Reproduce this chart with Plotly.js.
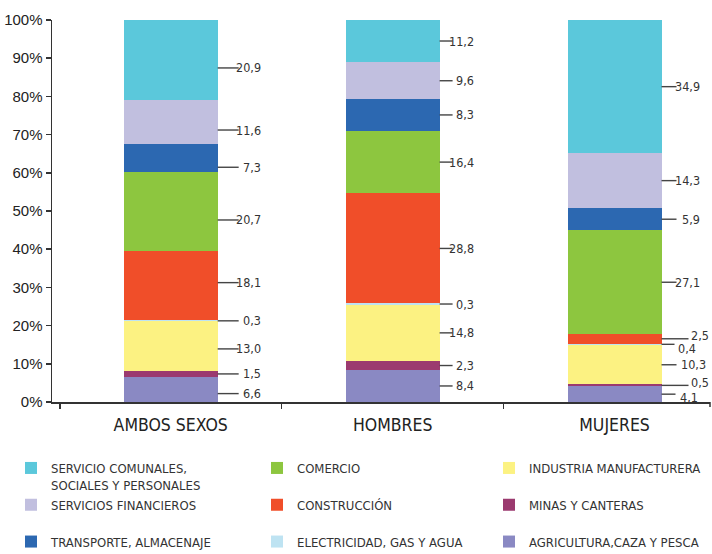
<!DOCTYPE html>
<html>
<head>
<meta charset="utf-8">
<script src="https://cdn.plot.ly/plotly-3.0.1.min.js"></script>
<style>html,body{margin:0;padding:0;background:#fff;}#chart{width:712px;height:554px;}</style>
</head>
<body>
<div id="chart"></div>
<script>
// ---- DATA ----
const categories = ['AMBOS SEXOS', 'HOMBRES', 'MUJERES'];
const yTickValues = [0, 10, 20, 30, 40, 50, 60, 70, 80, 90, 100];
const yTickLabels = ['0%', '10%', '20%', '30%', '40%', '50%', '60%', '70%', '80%', '90%', '100%'];

const agricultura  = [6.6, 8.4, 4.1];
const minas        = [1.5, 2.3, 0.5];
const industria    = [13.0, 14.8, 10.3];
const electricidad = [0.3, 0.3, 0.4];
const construccion = [18.1, 28.8, 2.5];
const comercio     = [20.7, 16.4, 27.1];
const transporte   = [7.3, 8.3, 5.9];
const financieros  = [11.6, 9.6, 14.3];
const comunales    = [20.9, 11.2, 34.9];

const sectorNames = [
  'AGRICULTURA,CAZA Y PESCA',
  'MINAS Y CANTERAS',
  'INDUSTRIA MANUFACTURERA',
  'ELECTRICIDAD, GAS Y AGUA',
  'CONSTRUCCIÓN',
  'COMERCIO',
  'TRANSPORTE, ALMACENAJE<br>Y COMUNICACIONES',
  'SERVICIOS FINANCIEROS',
  'SERVICIO COMUNALES,<br>SOCIALES Y PERSONALES'
];

// ---- STYLE ----
const seriesValues = [agricultura, minas, industria, electricidad, construccion, comercio, transporte, financieros, comunales];
const colors = ['#8A89C3', '#9B3A6F', '#FCF282', '#BEE3F2', '#F04E29', '#8DC63F', '#2C68B1', '#C1BFDF', '#5BC8DB'];
const legendCol  = ['legend3', 'legend3', 'legend3', 'legend2', 'legend2', 'legend2', 'legend', 'legend', 'legend'];
const legendRank = [3, 2, 1, 3, 2, 1, 3, 2, 1];

const narrow = '"Liberation Sans Narrow", "Arial Narrow", "DejaVu Sans Condensed", sans-serif';
const regular = '"Liberation Sans", Arial, sans-serif';
const barWidth = 0.423;

const traces = seriesValues.map((vals, k) => {
  let nm = sectorNames[k];
  if (nm.indexOf('<br>') < 0) nm = nm + '<br> ';
  return {
    type: 'bar',
    x: categories,
    y: vals,
    name: nm,
    width: barWidth,
    marker: {color: colors[k], line: {width: 0}},
    legend: legendCol[k],
    legendrank: legendRank[k],
    legendgroup: 'g' + k,
    hoverinfo: 'skip'
  };
});

// ---- LABELS with leader lines ----
const barLabelGeom = [{L: 21, R: 44}, {L: 13, R: 35}, {L: 15, R: 39}];
const tweaks = {
  0: {8: {dy: -2.1}, 7: {dy: -2.1}, 6: {dy: -2.4}, 5: {dy: -2.2}, 4: {dy: 0.8}, 2: {dy: -0.7}, 0: {dy: -1.1}},
  2: {4: {L: 27, left: 28, ys: 3}, 3: {L: 13, left: 15, ys: -4}, 2: {R: 45}, 1: {L: 27, left: 28, ys: 3}, 0: {L: 14, left: 17, ys: -3}}
};

const shapes = [];
const annotations = [];
categories.forEach((cat, i) => {
  let base = 0;
  seriesValues.forEach((vals, k) => {
    const v = vals[i];
    const tw = (tweaks[i] && tweaks[i][k]) || {};
    const y = base + v / 2 + (tw.dy || 0);
    base += v;
    const L = tw.L !== undefined ? tw.L : barLabelGeom[i].L;
    const edge = i + barWidth / 2;
    shapes.push({
      type: 'line', xref: 'x', yref: 'y', xsizemode: 'pixel', xanchor: edge,
      x0: 0, x1: L, y0: y, y1: y,
      line: {color: '#444', width: 1.4}
    });
    const txt = v.toFixed(1).replace('.', ',');
    const ann = {
      x: edge, y: y, xref: 'x', yref: 'y', text: txt, showarrow: false,
      yanchor: 'middle', yshift: tw.ys || 0, borderpad: 0,
      font: {family: narrow, size: 12.5, color: '#333'}
    };
    if (tw.left !== undefined) {
      ann.xanchor = 'left';
      ann.xshift = tw.left;
    } else {
      ann.xanchor = 'right';
      ann.xshift = tw.R !== undefined ? tw.R : barLabelGeom[i].R;
    }
    annotations.push(ann);
  });
});
shapes.push({type: 'line', xref: 'paper', yref: 'paper', ysizemode: 'pixel', yanchor: 0,
  x0: 1, x1: 1, y0: 0, y1: -5, line: {color: '#333', width: 1.5}});

const legendBase = {
  orientation: 'v', xref: 'container', yref: 'container',
  xanchor: 'left', yanchor: 'top', y: 1 - 453 / 554,
  traceorder: 'grouped', tracegroupgap: 0, valign: 'top',
  font: {family: narrow, size: 13, color: '#333'},
  bgcolor: 'rgba(0,0,0,0)', itemclick: false, itemdoubleclick: false
};

const layout = {
  width: 712, height: 554,
  margin: {l: 52, r: 2, t: 20, b: 152, autoexpand: false},
  paper_bgcolor: '#fff', plot_bgcolor: '#fff',
  barmode: 'stack',
  showlegend: true,
  legend:  Object.assign({}, legendBase, {x: 11 / 712}),
  legend2: Object.assign({}, legendBase, {x: 257 / 712}),
  legend3: Object.assign({}, legendBase, {x: 489 / 712}),
  xaxis: {
    type: 'category', range: [-0.535, 2.43],
    showline: true, linecolor: '#333', linewidth: 1.5,
    ticks: 'outside', tickson: 'boundaries', ticklen: 5, tickcolor: '#333', tickwidth: 1.5,
    tickfont: {family: narrow, size: 17.5, color: '#222'}, ticklabelstandoff: 6, tickangle: 0,
    showgrid: false, zeroline: false, fixedrange: true, automargin: false
  },
  yaxis: {
    range: [0, 100], tickvals: yTickValues, ticktext: yTickLabels,
    showline: true, linecolor: '#333', linewidth: 1.5,
    ticks: 'outside', ticklen: 5, tickcolor: '#333', tickwidth: 1.5,
    tickfont: {family: regular, size: 15, color: '#222'},
    showgrid: false, zeroline: false, fixedrange: true, automargin: false
  },
  shapes: shapes,
  annotations: annotations
};

Plotly.newPlot('chart', traces, layout, {staticPlot: true, displayModeBar: false});
</script>
</body>
</html>
